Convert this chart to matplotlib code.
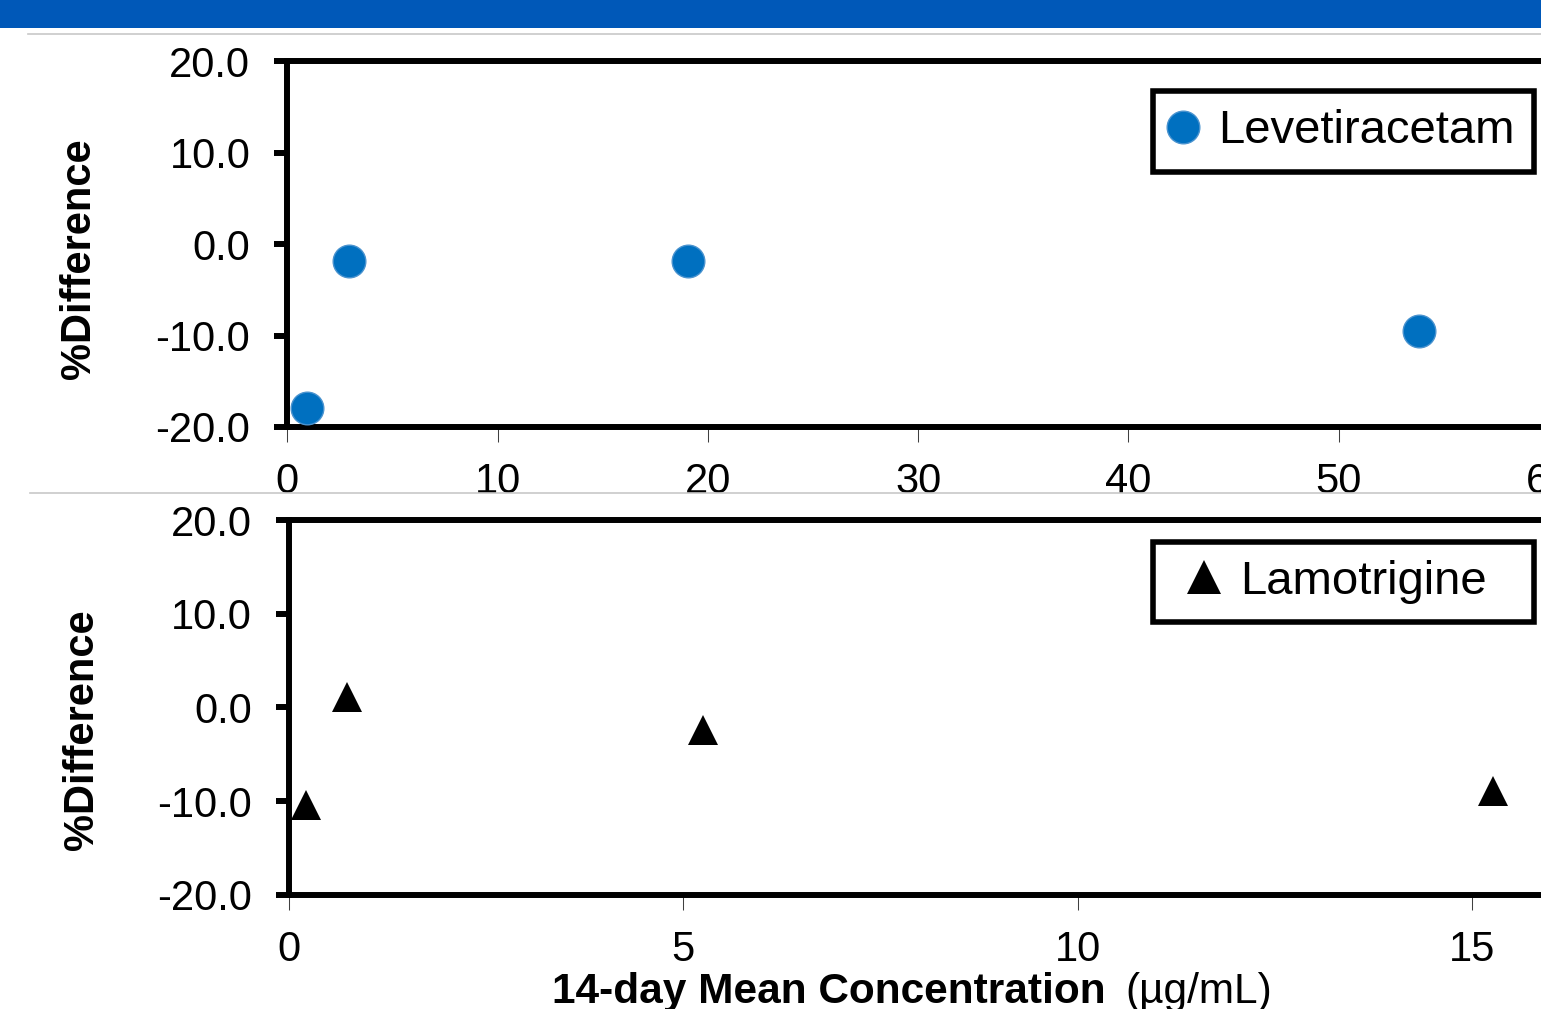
import matplotlib
matplotlib.use("Agg")
import matplotlib.pyplot as plt
from matplotlib.lines import Line2D
from matplotlib.patches import Rectangle

# values
lev_conc = [0.92, 2.93, 19.07, 53.83]
lev_diff = [-17.9, -1.86, -1.86, -9.45]

lam_conc = [0.22, 0.73, 5.25, 15.27]
lam_diff = [-10.4, 1.13, -2.42, -8.9]

y_ticks = [-20, -10, 0, 10, 20]
lev_xticks = [0, 10, 20, 30, 40, 50, 60]
lam_xticks = [0, 5, 10, 15]

W, H = 1541, 1009

plt.rcParams["font.family"] = ["Liberation Sans", "DejaVu Sans"]

fig = plt.figure(figsize=(W / 100, H / 100), dpi=100)


def box(left, top, right, bottom):
    # pixel box (from top-left) -> figure fraction rect
    return [left / W, 1 - bottom / H, (right - left) / W, (bottom - top) / H]


# header band and thin separator lines
fig.patches.append(Rectangle((0, 1 - 28 / H), 1, 28 / H, transform=fig.transFigure,
                             facecolor="#0058B8", edgecolor="none"))
fig.lines.append(Line2D([28 / W, 1], [1 - 34 / H] * 2, transform=fig.transFigure,
                        color="#C8C8C8", linewidth=1.2))
fig.lines.append(Line2D([30 / W, 1], [1 - 493 / H] * 2, transform=fig.transFigure,
                        color="#C8C8C8", linewidth=1.2))

ax1 = fig.add_axes(box(287.3, 61.4, 1549, 427))
ax2 = fig.add_axes(box(289, 520, 1550.6, 894.7))

for ax in (ax1, ax2):
    ax.set_ylim(-20, 20)
    ax.set_yticks(y_ticks)
    ax.set_yticklabels([f"{v:.1f}" for v in y_ticks])
    for s in ax.spines.values():
        s.set_linewidth(4.3)
    ax.tick_params(axis="y", direction="out", length=9.6, width=4.3,
                   pad=17, labelsize=30)
    ax.tick_params(axis="x", direction="out", length=10.8, width=0.75,
                   color="#404040", pad=14.5, labelsize=30)

# Levetiracetam
ax1.plot(lev_conc, lev_diff, linestyle="none", marker="o", markersize=23.5,
         color="#0070C0", markeredgecolor="#4A93CF", markeredgewidth=1,
         clip_on=False, zorder=5, label="Levetiracetam")
ax1.set_xlim(0, 60)
ax1.set_xticks(lev_xticks)
ax1.set_xticklabels([str(v) for v in lev_xticks])

# Lamotrigine
ax2.plot(lam_conc, lam_diff, linestyle="none", marker="^", markersize=21.5,
         color="black", markeredgewidth=0, clip_on=False, zorder=5,
         label="Lamotrigine")
ax2.set_xlim(0, 16)
ax2.set_xticks(lam_xticks)
ax2.set_xticklabels([str(v) for v in lam_xticks])

legend_left = 1152.75 / W
legend_width = (1533.9 - 1152.75) / W

leg1 = ax1.legend(loc="upper left",
                  bbox_to_anchor=(legend_left, 1 - 90.75 / H - 0.01, legend_width, 0.01),
                  bbox_transform=fig.transFigure, mode="expand", borderaxespad=0,
                  fontsize=34, fancybox=False, edgecolor="black", framealpha=1,
                  borderpad=0.39, handlelength=0.51, handletextpad=0.48)
leg1.get_frame().set_linewidth(4)

leg2 = ax2.legend(loc="upper left",
                  bbox_to_anchor=(legend_left, 1 - 541.5 / H - 0.01, legend_width, 0.01),
                  bbox_transform=fig.transFigure, mode="expand", borderaxespad=0,
                  fontsize=34, fancybox=False, edgecolor="black", framealpha=1,
                  borderpad=0.39, handlelength=1.37, handletextpad=0.09)
leg2.get_frame().set_linewidth(4)
leg2.legend_handles[0].set_markersize(25)

# axis titles
fig.text(90 / W, 1 - 259 / H, "%Difference", rotation=90, rotation_mode="anchor",
         ha="center", va="baseline", fontsize=30, fontweight="bold")
fig.text(93 / W, 1 - 730 / H, "%Difference", rotation=90, rotation_mode="anchor",
         ha="center", va="baseline", fontsize=30, fontweight="bold")

fig.text(552 / W, 1 - 1003 / H, "14-day Mean Concentration", ha="left",
         va="baseline", fontsize=30.5, fontweight="bold")
fig.text(1125 / W, 1 - 1003 / H, "(µg/mL)", ha="left", va="baseline", fontsize=30.5)

fig.savefig("out.png", dpi=100)
